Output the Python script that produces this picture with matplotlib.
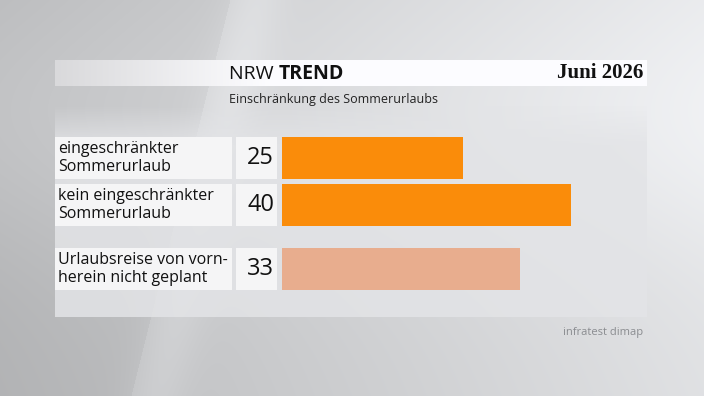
import matplotlib
matplotlib.use('Agg')
import matplotlib.pyplot as plt
from matplotlib.patches import Rectangle
import numpy as np

# data
labels = ['eingeschränkter\nSommerurlaub', 'kein eingeschränkter\nSommerurlaub',
          'Urlaubsreise von vorn-\nherein nicht geplant']
values = [25, 40, 33]
ypos = [0, 1, 2.37]
colors = ['#fa8c0a', '#fa8c0a', '#e8ad8e']
title_light = 'NRW '
title_bold = 'TREND'
date_text = 'Juni 2026'
subtitle = 'Einschränkung des Sommerurlaubs'
source = 'infratest dimap'

W, H = 704, 396
fig = plt.figure(figsize=(W / 100, H / 100), dpi=100)


def fx(px):
    return px / W


def fy(py):
    return 1 - py / H


# background gradient
bg = fig.add_axes([0, 0, 1, 1])
bg.set_axis_off()
yy, xx = np.mgrid[0:H, 0:W]
base = 0.76 + 0.15 * (xx / W) + 0.05 * np.exp(-((yy - 120) / 140.0) ** 2)
edge = 230 - 0.25 * yy
base = np.where(xx < edge, base - 0.03, base)
streak = 0.04 * np.exp(-((xx - edge - 25) / 30.0) ** 2)
base = np.clip(base + streak - 0.02 * (yy / H), 0, 1)
img = np.dstack([base * 0.985, base * 0.99, base * 1.0])
bg.imshow(img, extent=[0, W, H, 0], aspect='auto')

# light panel, fading in at the top
rows = np.arange(105, 317)
alpha = np.clip((rows - 105) / 40.0, 0, 1) * 0.85
panel = np.zeros((len(rows), 1, 4))
panel[:, 0, :3] = [0.894, 0.898, 0.906]
panel[:, 0, 3] = alpha
bg.imshow(panel, extent=[55, 647, 317, 105], aspect='auto')
bg.set_xlim(0, W)
bg.set_ylim(H, 0)

# header band, white fading to grey on the left
band = fig.add_axes([fx(55), fy(86), fx(647 - 55), (86 - 60) / H])
band.set_axis_off()
g = np.clip(np.linspace(0.86, 1.25, 300), 0, 1)
band.imshow(np.dstack([g * 0.99, g * 0.99, g]), extent=[0, 1, 0, 1], aspect='auto')

# titles
t = fig.text(fx(229), fy(74), title_light, fontsize=14, family='Open Sans',
             color='#111111', va='center', ha='left')
fig.canvas.draw()
bb = t.get_window_extent()
fig.text(bb.x1 / W, fy(74), title_bold, fontsize=14, family='Open Sans',
         fontweight='bold', color='#111111', va='center', ha='left')
fig.text(fx(643), fy(73), date_text, fontsize=15, family='Liberation Serif',
         fontweight='bold', color='#111111', va='center', ha='right')
fig.text(fx(229), fy(100), subtitle, fontsize=9, family='Open Sans',
         color='#222222', va='center', ha='left')
fig.text(fx(643), fy(333), source, fontsize=8, family='Open Sans',
         color='#8a8c90', va='center', ha='right')

# bar axes: 1 unit = 7.22 px, 1 row = 47 px
x0 = 282
ax = fig.add_axes([fx(x0), fy(317), 50 * 7.22 / W, (317 - 125) / H])
ax.set_zorder(5)
ax.patch.set_alpha(0)
ax.set_xlim(0, 50)
ax.set_ylim(-0.70 + 192 / 47.0, -0.70)
ax.set_axis_off()
ax.barh(ypos, values, height=0.9, color=colors)

for lab, v, y in zip(labels, values, ypos):
    yc = ax.transData.transform((0, y))[1]
    hh = 0.9 * 47
    # label box
    fig.patches.append(Rectangle((fx(55), (yc - hh / 2) / H), fx(232 - 55), hh / H,
                                 transform=fig.transFigure, facecolor='#f5f5f6',
                                 edgecolor='none', zorder=1))
    # value box
    fig.patches.append(Rectangle((fx(236), (yc - hh / 2) / H), fx(277 - 236), hh / H,
                                 transform=fig.transFigure, facecolor='#f5f5f6',
                                 edgecolor='none', zorder=1))
    fig.text(fx(58), yc / H, lab, fontsize=11.5, family='Open Sans', color='#111111',
             va='center', ha='left', linespacing=1.15)
    fig.text(fx(274), yc / H, str(v), fontsize=17, family='Open Sans', color='#111111',
             va='center', ha='right')

fig.savefig('out.png', dpi=100)
